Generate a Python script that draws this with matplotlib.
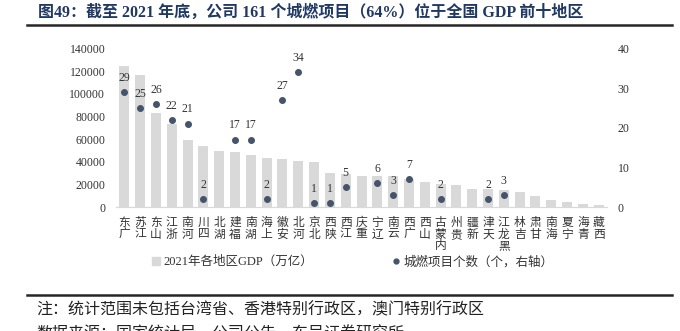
import matplotlib
matplotlib.use("Agg")
import matplotlib.pyplot as plt
from matplotlib.lines import Line2D
import numpy as np

plt.rcParams['font.family'] = ['Liberation Serif', 'Noto Sans CJK SC']

# 2021 GDP by province (亿元) and number of city-gas projects
regions = ['广东', '江苏', '山东', '浙江', '河南', '四川', '湖北', '福建', '湖南', '上海',
           '安徽', '河北', '北京', '陕西', '江西', '重庆', '辽宁', '云南', '广西', '山西',
           '内蒙古', '贵州', '新疆', '天津', '黑龙江', '吉林', '甘肃', '海南', '宁夏', '青海', '西藏']
gdp = [124370, 116364, 83096, 73516, 58887, 53851, 50013, 48810, 46063, 43215,
       42959, 40391, 40270, 29801, 29620, 27894, 27584, 27147, 24741, 22590,
       20514, 19586, 15984, 15695, 14879, 13236, 10243, 6475, 4522, 3347, 2080]
projects = [29, 25, 26, 22, 21, 2, None, 17, 17, 2,
            27, 34, 1, 1, 5, None, 6, 3, 7, None,
            2, None, None, 2, 3, None, None, None, None, None, None]

bar_color = '#D9D9D9'
dot_color = '#44546A'
text_color = '#333333'

fig = plt.figure(figsize=(6.8, 3.31), dpi=100)
ax = fig.add_axes([0.1712, 0.3737, 0.7209, 0.4804])
ax2 = ax.twinx()

x = np.arange(len(regions))
ax.bar(x, gdp, width=0.63, color=bar_color, zorder=2)
ax.set_xlim(-0.5, len(regions) - 0.5)
ax.set_ylim(0, 140000)
ax.set_yticks(range(0, 140001, 20000))

# stacked vertical labels, last character on top
ax.set_xticks(x)
ax.set_xticklabels(['\n'.join(reversed(r)) for r in regions], fontsize=7.5, color=text_color)
for lbl in ax.get_xticklabels():
    lbl.set_linespacing(0.95)

px = [i for i, v in enumerate(projects) if v is not None]
py = [v for v in projects if v is not None]
ax2.plot(px, py, 'o', color=dot_color, markersize=4, linestyle='none', zorder=3)
for xi, yi in zip(px, py):
    ax2.annotate(str(yi), (xi, yi), xytext=(0, 6), textcoords='offset points',
                 ha='center', va='bottom', fontsize=8.5, color=text_color)
ax2.set_ylim(0, 40)
ax2.set_yticks(range(0, 41, 10))

for a in (ax, ax2):
    for s in ('top', 'left', 'right'):
        a.spines[s].set_visible(False)
    a.spines['bottom'].set_color(bar_color)
    a.tick_params(length=0, labelsize=8.5, labelcolor=text_color)
ax.tick_params(axis='y', pad=8)
ax2.tick_params(axis='y', pad=8)
ax.tick_params(axis='x', pad=7)

handles = [Line2D([], [], marker='s', color=bar_color, linestyle='none', markersize=6),
           Line2D([], [], marker='o', color=dot_color, linestyle='none', markersize=3.5)]
fig.legend(handles, ['2021年各地区GDP（万亿）', '城燃项目个数（个，右轴）'],
           loc='center', bbox_to_anchor=(0.519, 0.2085), ncol=2, frameon=False,
           fontsize=9, handlelength=0.6, handletextpad=0.3, columnspacing=6.3,
           labelcolor=text_color)

# header and footer
fig.text(0.056, 0.9616, '图49：截至 2021 年底，公司 161 个城燃项目（64%）位于全国 GDP 前十地区',
         fontsize=11.5, fontweight='bold', color='#203864', va='center', ha='left')
fig.add_artist(Line2D([0.0397, 0.988], [0.9245, 0.9245], color='#262626', linewidth=1.8))
fig.add_artist(Line2D([0.0397, 0.988], [0.1088, 0.1088], color='#262626', linewidth=1.8))
fig.text(0.054, 0.0634, '注：统计范围未包括台湾省、香港特别行政区，澳门特别行政区',
         fontsize=11.5, color='#222222', va='center', ha='left')
fig.text(0.054, 0.0151, '数据来源：国家统计局，公司公告，东吴证券研究所',
         fontsize=11.5, color='#222222', va='top', ha='left')

fig.savefig('out.png', dpi=100)
